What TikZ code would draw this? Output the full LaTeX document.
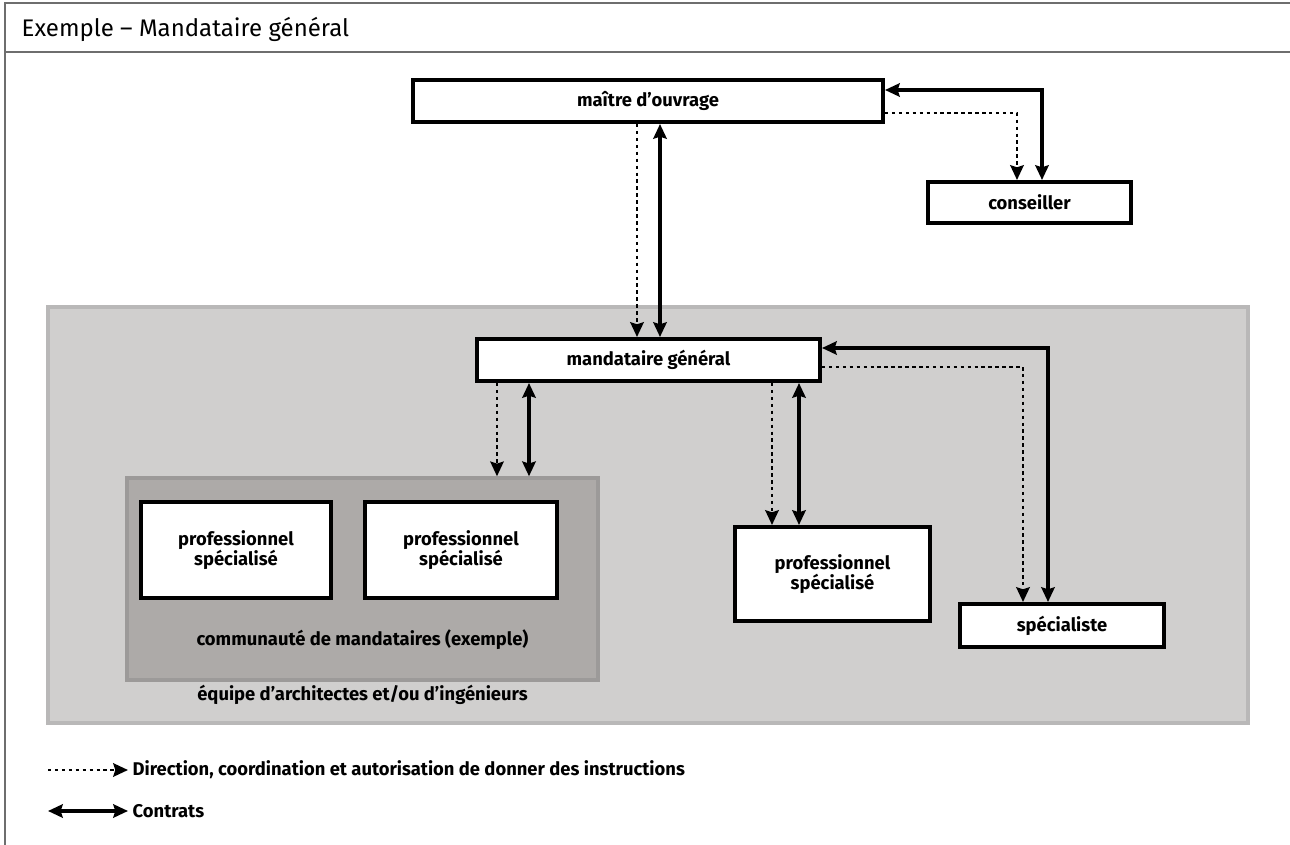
\documentclass[tikz,border=0pt]{standalone}
\usepackage{fontspec}
\setmainfont{Fira Sans}
\usetikzlibrary{positioning}
\usetikzlibrary{arrows.meta}
\definecolor{zone}{HTML}{D0CFCE}
\definecolor{zonebord}{HTML}{B9B8B8}
\definecolor{commu}{HTML}{ADAAA8}
\definecolor{commubord}{HTML}{9C9A99}
\definecolor{cadre}{HTML}{6E6E6E}

\begin{document}
\begin{tikzpicture}[x=0.75pt,y=-0.75pt,
    box/.style={draw=black,line width=3pt,fill=white,align=center,inner sep=0pt,
      font=\bfseries\fontsize{13.8}{15.5}\selectfont},
    contrat/.style={line width=2.6pt,
      {Stealth[length=11pt,width=10pt,inset=1.5pt]}-{Stealth[length=11pt,width=10pt,inset=1.5pt]}},
    consigne/.style={line width=2.2pt,dash pattern=on 2.6pt off 2.6pt,
      -{Stealth[length=11pt,width=10pt,inset=1.5pt]}},
    legende/.style={anchor=west,font=\bfseries\fontsize{13.8}{15.5}\selectfont},
  ]
  \useasboundingbox (0,0) rectangle (1290,845);
  % cadre et titre
  \draw[cadre,line width=1.5pt] (5,845) -- (5,3) -- (1290,3);
  \draw[cadre,line width=1.5pt] (5,52) -- (1290,52);
  \node[anchor=base west,font=\fontsize{18}{21}\selectfont] (titre) at (17,37)
    {Exemple – Mandataire général};
  % maitre d'ouvrage et conseiller
  \node[box,minimum width=352.5pt,minimum height=31.5pt] (mo) at (648,101) {maître d’ouvrage};
  \node[box,minimum width=152.25pt,minimum height=30.75pt] (cons) at (1029.5,202.5) {conseiller};
  % equipe
  \draw[zonebord,fill=zone,line width=2.6pt] (48,307) rectangle (1248,723);
  \node[box,minimum width=257.25pt,minimum height=31.5pt] (mg) at (648.5,360) {mandataire général};
  \node[draw=commubord,fill=commu,line width=2.6pt,minimum width=353.25pt,
    minimum height=151.5pt] (cm) at (362.5,579) {};
  \node[box,minimum width=142.5pt,minimum height=72pt] (ps1) at (236,550) {professionnel\\spécialisé};
  \node[box,minimum width=144pt,minimum height=72pt] (ps2) at (461,550) {professionnel\\spécialisé};
  \node[font=\bfseries\fontsize{13.8}{15.5}\selectfont] (cmtxt) at (362.5,640) {communauté de mandataires (exemple)};
  \node[font=\bfseries\fontsize{13.8}{15.5}\selectfont] (eqtxt) at (362.5,695) {équipe d’architectes et/ou d’ingénieurs};
  \node[box,minimum width=146.25pt,minimum height=70.5pt] (ps3) at (832.5,574) {professionnel\\spécialisé};
  \node[box,minimum width=153pt,minimum height=32.25pt] (spec) at (1062,625.5) {spécialiste};
  % voies des fleches
  \coordinate (v1) at (637,0);
  \coordinate (v2) at (660,0);
  \coordinate (v3) at (497,0);
  \coordinate (v4) at (529,0);
  \coordinate (v5) at (772,0);
  \coordinate (v6) at (799,0);
  \coordinate (v7) at (1017,0);
  \coordinate (v8) at (1042,0);
  \coordinate (v9) at (1023,0);
  \coordinate (v10) at (1048,0);
  \draw[consigne] (mo.south -| v1) -- (mg.north -| v1);
  \draw[contrat] (mo.south -| v2) -- (mg.north -| v2);
  \draw[consigne] ([yshift=-9pt]mo.east) -| (cons.north -| v7);
  \draw[contrat] ([yshift=8.25pt]mo.east) -| (cons.north -| v8);
  \draw[consigne] (mg.south -| v3) -- (cm.north -| v3);
  \draw[contrat] (mg.south -| v4) -- (cm.north -| v4);
  \draw[consigne] (mg.south -| v5) -- (ps3.north -| v5);
  \draw[contrat] (mg.south -| v6) -- (ps3.north -| v6);
  \draw[consigne] ([yshift=-5.25pt]mg.east) -| (spec.north -| v9);
  \draw[contrat] ([yshift=9pt]mg.east) -| (spec.north -| v10);
  % legende
  \node[legende] (lg1) at (128,770) {Direction, coordination et autorisation de donner des instructions};
  \node[legende] (lg2) at (128,811) {Contrats};
  \coordinate (la1) at (48,770);
  \coordinate (la2) at (48,811);
  \draw[consigne] (la1) -- (lg1.west);
  \draw[contrat] (la2) -- (lg2.west);
\end{tikzpicture}
\end{document}
